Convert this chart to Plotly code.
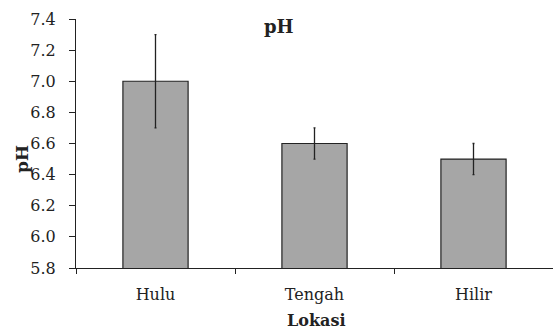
import plotly.graph_objects as go

categories = ["Hulu", "Tengah", "Hilir"]
values = [7.0, 6.6, 6.5]
errors = [0.3, 0.1, 0.1]
y_ticks = [5.8, 6.0, 6.2, 6.4, 6.6, 6.8, 7.0, 7.2, 7.4]

font_family = "DejaVu Serif, Liberation Serif, serif"
ink = "#222222"

L, T, W, H = 76, 19, 477, 249  # plot area in pixels

fig = go.Figure(go.Bar(
    x=categories, y=values,
    marker=dict(color="#a6a6a6", line=dict(color=ink, width=1.2)),
    error_y=dict(type="data", array=errors, visible=True, color=ink, thickness=1.3, width=1),
    width=0.41,
))

fig.update_layout(
    width=553, height=333,
    margin=dict(l=L, r=553 - L - W, t=T, b=333 - T - H, autoexpand=False),
    plot_bgcolor="white", paper_bgcolor="white",
    showlegend=False,
    font=dict(family=font_family, size=16, color=ink),
)

def px_x(x):
    return (x - L) / W

def px_y(y):
    return 1 - (y - T) / H

# chart title
fig.add_annotation(text="<b>pH</b>", x=px_x(279), y=px_y(27), xref="paper", yref="paper",
                   showarrow=False, font=dict(size=18), xanchor="center", yanchor="middle")
# y-axis title
fig.add_annotation(text="<b>pH</b>", x=px_x(22), y=px_y(159), xref="paper", yref="paper",
                   showarrow=False, font=dict(size=17), textangle=-90,
                   xanchor="center", yanchor="middle")
# x-axis title
fig.add_annotation(text="<b>Lokasi</b>", x=px_x(316), y=px_y(320), xref="paper", yref="paper",
                   showarrow=False, font=dict(size=16), xanchor="center", yanchor="middle")

fig.update_xaxes(
    showline=True, linecolor=ink, linewidth=1.2,
    ticks="outside", tickson="boundaries", ticklen=5, tickcolor=ink,
    ticklabelstandoff=12,
    showgrid=False, automargin=False,
)
fig.update_yaxes(
    range=[5.8, 7.4], tickvals=y_ticks, ticktext=[f"{v:.1f}" for v in y_ticks],
    showline=True, linecolor=ink, linewidth=1.2,
    ticks="outside", ticklen=6, tickcolor=ink,
    ticklabelstandoff=10,
    showgrid=False, zeroline=False, automargin=False,
)

fig.write_html("out.html", config={"displayModeBar": False},
               post_script="document.body.style.margin='0';")
